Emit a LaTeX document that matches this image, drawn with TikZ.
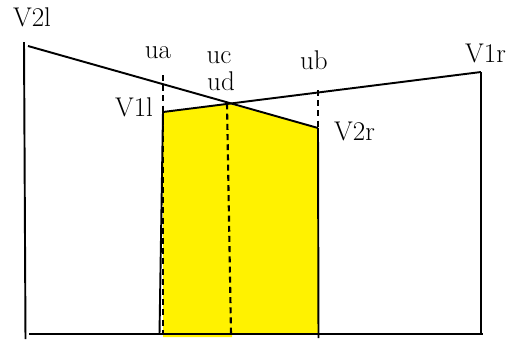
\documentclass[tikz,border=0pt]{standalone}
\usepackage{tikz}
\usepackage{xcolor}

\begin{document}
\begin{tikzpicture}[
    x=0.02cm,
    y=-0.02cm,
    edge/.style={
        line width=1.1pt
    },
    guide/.style={
        line width=1.2pt,
        dash pattern=on 3.4pt off 2.4pt
    },
    area/.style={
        fill=yellow
    },
    lbl/.style={
        anchor=base,
        inner sep=0pt,
        font=\fontsize{15.4pt}{18pt}\selectfont
    }
]
\useasboundingbox (0,0) rectangle (515,339);


\coordinate (V2l) at (28,46);
\coordinate (V1l) at (163,112);
\coordinate (V1r) at (481,72);
\coordinate (V2r) at (318,128);
\coordinate (cross) at (227,103.5);


\fill[area] (V1l) -- (cross) -- (V2r) -- (318,334) -- (232,334)
    -- (232,337) -- (163,337) -- cycle;


\draw[edge] (24,42) -- (25.5,339);
\draw[edge] (29,334) -- (483,334);
\draw[edge] (V1r) -- (481,334);
\draw[edge] (V2l) -- (V2r);
\draw[edge] (V1l) -- (V1r);
\draw[edge] (V1l) -- (159.5,334);
\draw[edge] (V2r) -- (318.5,338);


\draw[guide] (163,75) -- (163,334);
\draw[guide] (cross) -- (231,334);
\draw[guide] (318,90) -- (318,128);


\node[lbl] (tV2l) at (32,26) {V2l};
\node[lbl] (tua) at (158,58) {ua};
\node[lbl] (tuc) at (219,63) {uc};
\node[lbl] (tud) at (221,90) {ud};
\node[lbl] (tub) at (314,69) {ub};
\node[lbl] (tV1l) at (134,116) {V1l};
\node[lbl] (tV2r) at (354.5,140) {V2r};
\node[lbl] (tV1r) at (485.5,62) {V1r};

\end{tikzpicture}
\end{document}
